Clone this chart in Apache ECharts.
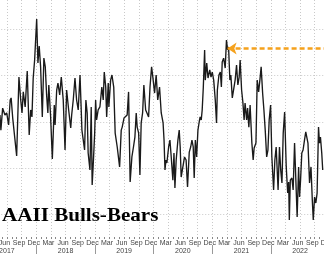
<!DOCTYPE html>
<html><head><meta charset="utf-8">
<script src="https://cdn.jsdelivr.net/npm/echarts@6/dist/echarts.min.js"></script>
<style>html,body{margin:0;padding:0;background:#fff}#c{width:324px;height:254px}</style>
</head><body><div id="c"></div>
<script>
const dates = [
'2017-05-19','2017-05-25','2017-06-05','2017-06-19','2017-06-30','2017-07-12','2017-07-22','2017-07-28','2017-08-07','2017-08-17',
'2017-09-01','2017-09-15','2017-09-26','2017-10-04','2017-10-12','2017-10-24','2017-11-06','2017-11-18','2017-11-27','2017-12-05',
'2017-12-13','2017-12-22','2018-01-04','2018-01-12','2018-01-20','2018-01-29','2018-02-08','2018-02-17','2018-02-25','2018-03-05',
'2018-03-13','2018-03-19','2018-03-30','2018-04-10','2018-04-22','2018-04-27','2018-05-07','2018-05-15','2018-05-26','2018-06-05',
'2018-06-17','2018-06-28','2018-07-08','2018-07-21','2018-08-03','2018-08-09','2018-08-19','2018-08-30','2018-09-09','2018-09-19',
'2018-09-30','2018-10-12','2018-10-18','2018-10-29','2018-11-06','2018-11-14','2018-11-20','2018-12-01','2018-12-09','2018-12-15',
'2018-12-21','2018-12-31','2019-01-06','2019-01-12','2019-01-22','2019-02-02','2019-02-13','2019-02-21','2019-02-27','2019-03-08',
'2019-03-14','2019-03-24','2019-03-28','2019-04-08','2019-04-16','2019-04-27','2019-05-06','2019-05-19','2019-06-03','2019-06-13',
'2019-06-19','2019-06-30','2019-07-10','2019-07-20','2019-07-29','2019-08-08','2019-08-19','2019-08-29','2019-09-07','2019-09-15',
'2019-09-21','2019-09-30','2019-10-08','2019-10-16','2019-10-25','2019-11-02','2019-11-13','2019-11-21','2019-12-01','2019-12-10',
'2019-12-20','2019-12-28','2020-01-08','2020-01-18','2020-01-28','2020-02-08','2020-02-18','2020-02-29','2020-03-06','2020-03-12',
'2020-03-18','2020-03-24','2020-04-04','2020-04-12','2020-04-20','2020-04-30','2020-05-07','2020-05-13','2020-05-21','2020-06-01',
'2020-06-09','2020-06-15','2020-06-21','2020-07-02','2020-07-12','2020-07-22','2020-07-31','2020-08-11','2020-08-20','2020-08-28',
'2020-09-05','2020-09-11','2020-09-18','2020-09-26','2020-10-04','2020-10-12','2020-10-18','2020-10-25','2020-10-31','2020-11-07',
'2020-11-15','2020-11-19','2020-11-28','2020-12-06','2020-12-17','2020-12-25','2021-01-02','2021-01-11','2021-01-21','2021-01-29',
'2021-02-03','2021-02-12','2021-02-20','2021-02-26','2021-03-03','2021-03-12','2021-03-22','2021-03-30','2021-04-06','2021-04-12',
'2021-04-20','2021-04-26','2021-05-05','2021-05-15','2021-05-23','2021-06-01','2021-06-09','2021-06-17','2021-06-23','2021-07-02',
'2021-07-10','2021-07-18','2021-07-24','2021-08-03','2021-08-09','2021-08-17','2021-08-25','2021-09-05','2021-09-13','2021-09-19',
'2021-09-30','2021-10-08','2021-10-17','2021-10-25','2021-11-02','2021-11-11','2021-11-19','2021-11-27','2021-12-06','2021-12-14',
'2021-12-22','2021-12-31','2022-01-08','2022-01-19','2022-01-27','2022-02-04','2022-02-15','2022-02-23','2022-03-02','2022-03-10',
'2022-03-18','2022-03-27','2022-04-06','2022-04-15','2022-04-21','2022-04-25','2022-05-01','2022-05-11','2022-05-19','2022-05-28',
'2022-06-05','2022-06-13','2022-06-22','2022-06-28','2022-07-04','2022-07-12','2022-07-20','2022-07-29','2022-08-06','2022-08-14',
'2022-08-20','2022-08-30','2022-09-08','2022-09-16','2022-09-22','2022-09-30','2022-10-08','2022-10-16','2022-10-25','2022-10-31',
'2022-11-06','2022-11-14','2022-11-20'
];
const spread = [
3.0,-3.5,6.0,3.0,3.9,-1.3,9.5,10.4,1.7,0.9,
-14.7,19.4,9.5,3.9,13.0,6.5,22.0,-5.6,5.2,2.2,
19.0,26.8,44.5,25.5,32.8,23.8,2.2,27.6,23.8,11.7,
3.9,16.0,3.0,-16.0,7.3,-1.3,13.8,16.8,11.7,19.4,
9.5,-12.1,13.8,5.2,-2.6,3.0,9.5,19.0,9.5,5.2,
20.3,-3.5,-6.5,-12.1,9.5,3.9,-13.4,-20.7,6.5,-27.2,
-19.4,-4.8,9.5,0.9,5.2,6.5,15.1,9.5,21.6,15.1,
2.2,16.8,6.5,18.1,20.3,15.1,-4.8,-10.8,-19.4,-3.5,
-2.2,1.7,2.2,3.0,13.0,-25.9,-15.1,-10.8,-6.5,3.9,
-2.2,-4.8,-22.9,-0.4,3.9,16.0,5.2,3.9,2.2,15.1,
23.8,19.4,12.5,20.3,9.5,15.1,3.9,-0.4,-7.8,-20.7,
-16.4,-17.7,-10.8,-7.8,-15.1,-25.1,-13.4,-28.5,-16.4,-7.8,
-3.5,-10.8,-23.8,-24.2,-15.1,-16.4,-28.1,-13.0,-10.8,-7.8,
-10.8,-24.2,-7.8,-15.1,-3.5,0.0,2.2,0.9,5.2,15.1,
31.1,18.1,25.5,19.0,22.5,19.4,21.6,18.1,9.5,-0.4,
13.8,20.3,21.6,15.1,25.9,27.6,23.3,35.4,31.1,32.4,
18.1,20.3,10.4,10.8,18.1,24.6,16.0,19.4,26.8,13.8,
8.6,0.9,8.2,0.9,6.0,-2.2,7.3,-9.1,-16.4,-11.2,
-9.1,18.1,13.0,18.1,23.8,12.5,5.2,-3.5,-15.1,-12.1,
0.9,7.3,-15.1,-29.4,-16.4,-10.8,-29.4,-10.8,-20.7,-26.3,
-4.8,4.3,-19.4,-30.7,-25.9,-42.3,-25.1,-24.2,-29.4,-9.1,
-25.1,-41.0,-19.4,-32.4,-25.1,-13.4,-12.1,-7.8,-4.3,-3.5,
-9.1,-26.3,-19.4,-33.7,-42.3,-32.4,-35.0,-30.7,-2.2,-9.1,
-6.5,-13.4,-20.7
];
const arrowDate = '2021-04-06';
const arrowLevel = 31.7;
const monthLabels = ['Dec','Mar','Jun','Sep'];
const yearLabels = ['2017','2018','2019','2020','2021','2022'];
const titleText = 'AAII Bulls-Bears';

// months since 2017-01-01 (fractional)
function toM(s){
  const p = s.split('-').map(Number);
  const dim = new Date(p[0], p[1], 0).getDate();
  return (p[0]-2017)*12 + (p[1]-1) + (p[2]-1)/dim;
}
const seriesData = dates.map((d,i)=>[toM(d), spread[i]]);

const chart = echarts.init(document.getElementById('c'), null, {renderer:'canvas'});
const gridCol = '#c9c9c9';
const gb = {outerBoundsMode:'none', containLabel:false};
chart.setOption({
  animation:false,
  backgroundColor:'#ffffff',
  grid:[
    Object.assign({left:-7.78, right:-5.4, top:0, bottom:17}, gb),
    Object.assign({left:-10.22, right:-2.98, top:236, bottom:17}, gb),
    Object.assign({left:-22.44, right:-5.4, top:236, bottom:17}, gb),
    Object.assign({left:-51.76, right:-5.4, top:236, bottom:17}, gb)
  ],
  xAxis:[
    {type:'value', gridIndex:0, min:3, max:72, interval:3,
     axisLine:{show:false, onZero:false},
     axisTick:{show:true, length:2, lineStyle:{color:'#888'}},
     minorTick:{show:true, splitNumber:3, length:2, lineStyle:{color:'#888'}},
     axisLabel:{show:false},
     splitLine:{show:true, lineStyle:{color:gridCol, type:[1,2], width:1}}},
    {type:'value', gridIndex:1, min:3, max:72, interval:3,
     axisLine:{show:false, onZero:false}, axisTick:{show:false}, splitLine:{show:false},
     axisLabel:{show:true, margin:3, fontSize:7, color:'#444',
       fontFamily:'Liberation Sans', showMinLabel:true, showMaxLabel:true, hideOverlap:false,
       formatter:function(v){ return monthLabels[Math.round(v/3)%4]; }}},
    {type:'value', gridIndex:2, min:0, max:72, interval:12, offset:8,
     axisLine:{show:false, onZero:false}, axisLabel:{show:false}, splitLine:{show:false},
     axisTick:{show:true, length:9, lineStyle:{color:'#999', width:1}}},
    {type:'value', gridIndex:3, min:0, max:78, interval:12, offset:8,
     axisLine:{show:false, onZero:false}, axisTick:{show:false}, splitLine:{show:false},
     axisLabel:{show:true, margin:3, fontSize:7, color:'#444',
       fontFamily:'Liberation Sans', showMinLabel:true, showMaxLabel:true, hideOverlap:false,
       formatter:function(v){ const i = Math.round(v/12) - 1; return yearLabels[i] || ''; }}}
  ],
  yAxis:[
    {type:'value', gridIndex:0, min:-49.68, max:52.70,
     axisLine:{show:false}, axisTick:{show:false}, axisLabel:{show:false},
     splitLine:{show:true, showMinLine:false, showMaxLine:false, lineStyle:{color:gridCol, type:[1,2], width:1}}},
    {type:'value', gridIndex:1, min:0, max:1, show:false},
    {type:'value', gridIndex:2, min:0, max:1, show:false},
    {type:'value', gridIndex:3, min:0, max:1, show:false}
  ],
  graphic:[{
    type:'text', x:2, y:216, scaleX:1.11, z:100,
    style:{text:titleText, font:'bold 19px "Liberation Serif"', fill:'#000',
      verticalAlign:'middle', align:'left',
      shadowColor:'rgba(0,0,0,0.55)', shadowBlur:3, shadowOffsetX:2, shadowOffsetY:2}
  }],
  series:[{
    type:'line', xAxisIndex:0, yAxisIndex:0, data:seriesData, showSymbol:false,
    lineStyle:{color:'#1a1a1a', width:1.35}, clip:true,
    markLine:{silent:true, symbol:['arrow','none'], symbolSize:[9,9],
      label:{show:false},
      lineStyle:{color:'#F5A11C', width:2.6, type:[5,3]},
      data:[[{coord:[toM(arrowDate), arrowLevel]},{coord:[72, arrowLevel]}]]}
  }]
});
</script></body></html>
